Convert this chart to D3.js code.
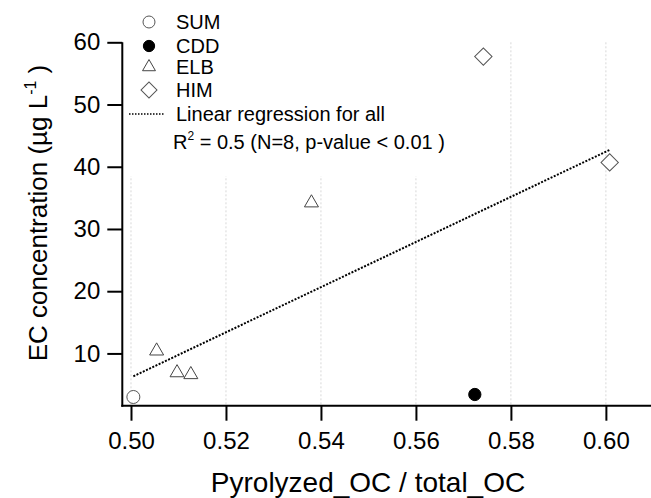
<!DOCTYPE html>
<html>
<head>
<meta charset="utf-8">
<script src="https://cdn.jsdelivr.net/npm/d3@7"></script>
<style>
  html, body { margin: 0; padding: 0; background: #fff; }
  svg { display: block; font-family: "Liberation Sans", Arial, sans-serif; }
</style>
</head>
<body>
<svg id="chart" width="651" height="498"></svg>
<script>
// values
const groups = ['SUM', 'CDD', 'ELB', 'HIM'];
const sumX = [0.5005], sumY = [3.0];
const cddX = [0.5724], cddY = [3.4];
const elbX = [0.5054, 0.5097, 0.5126, 0.5380], elbY = [10.4, 6.9, 6.6, 34.2];
const himX = [0.5742, 0.6008], himY = [57.7, 40.7];
const xTicks = [0.50, 0.52, 0.54, 0.56, 0.58, 0.60];
const yTicks = [10, 20, 30, 40, 50, 60];
const regLabel = 'Linear regression for all';

const W = 651, H = 498;
const svg = d3.select('#chart');

const x = d3.scaleLinear().domain([0.49817, 0.6095]).range([122.3, 651]);
const y = d3.scaleLinear().domain([1.6, 60]).range([405.7, 42.3]);

// symbol per group
const sym = {
  SUM: { type: d3.symbolCircle, size: 133, fill: '#fff', stroke: '#555', rot: 0 },
  CDD: { type: d3.symbolCircle, size: 118, fill: '#000', stroke: '#000', rot: 0 },
  ELB: { type: d3.symbolTriangle, size: 85, fill: '#fff', stroke: '#444', rot: 0 },
  HIM: { type: d3.symbolSquare, size: 150, fill: '#fff', stroke: '#555', rot: 45 }
};

const series = [
  { name: 'SUM', xs: sumX, ys: sumY },
  { name: 'CDD', xs: cddX, ys: cddY },
  { name: 'ELB', xs: elbX, ys: elbY },
  { name: 'HIM', xs: himX, ys: himY }
];

// vertical dotted grid
svg.append('g').selectAll('line')
  .data(xTicks)
  .join('line')
  .attr('x1', d => x(d)).attr('x2', d => x(d))
  .attr('y1', y(60)).attr('y2', y.range()[0])
  .attr('stroke', '#d8d8d8')
  .attr('stroke-width', 1)
  .attr('stroke-dasharray', '2,2');

// legend background hides grid behind it
svg.append('rect')
  .attr('x', 125).attr('y', 0)
  .attr('width', 330).attr('height', 176)
  .attr('fill', '#fff');

// regression over all points
const allPts = series.flatMap(s => s.xs.map((v, i) => [v, s.ys[i]]));
const mx = d3.mean(allPts, p => p[0]), my = d3.mean(allPts, p => p[1]);
const slope = d3.sum(allPts, p => (p[0] - mx) * (p[1] - my)) / d3.sum(allPts, p => (p[0] - mx) ** 2);
const icpt = my - slope * mx;
const [x0, x1] = d3.extent(allPts, p => p[0]);

svg.append('line')
  .attr('x1', x(x0)).attr('y1', y(icpt + slope * x0))
  .attr('x2', x(x1)).attr('y2', y(icpt + slope * x1))
  .attr('stroke', '#000')
  .attr('stroke-width', 2)
  .attr('stroke-dasharray', '2,1.5');

// points
series.forEach(s => {
  const st = sym[s.name];
  svg.append('g').selectAll('path')
    .data(s.xs.map((v, i) => [v, s.ys[i]]))
    .join('path')
    .attr('d', d3.symbol().type(st.type).size(st.size))
    .attr('transform', d => `translate(${x(d[0])},${y(d[1])}) rotate(${st.rot})`)
    .attr('fill', st.fill)
    .attr('stroke', st.stroke)
    .attr('stroke-width', 1);
});

// axes
const xAxis = svg.append('g')
  .attr('transform', `translate(0,${y.range()[0]})`)
  .call(d3.axisBottom(x).tickValues(xTicks).tickFormat(d3.format('.2f')).tickSize(15).tickPadding(11).tickSizeOuter(0));
const yAxis = svg.append('g')
  .attr('transform', `translate(${x.range()[0]},0)`)
  .call(d3.axisLeft(y).tickValues(yTicks).tickSize(15).tickPadding(7).tickSizeOuter(0));

[xAxis, yAxis].forEach(a => {
  a.select('.domain').attr('stroke', '#000').attr('stroke-width', 2);
  a.selectAll('.tick line').attr('stroke', '#000').attr('stroke-width', 2);
  a.selectAll('.tick text')
    .attr('fill', '#000')
    .style('font-family', '"Liberation Sans", Arial, sans-serif')
    .style('font-size', '24px');
});
xAxis.select('.domain').attr('d', `M${x.range()[0] - 1},0H${W}`);
yAxis.select('.domain').attr('d', `M0,${y(60)}V${y.range()[0] + 1}`);

// axis titles
svg.append('text')
  .attr('x', 368).attr('y', 492)
  .attr('text-anchor', 'middle')
  .style('font-size', '28px')
  .text('Pyrolyzed_OC / total_OC');

const yt = svg.append('text')
  .attr('transform', 'translate(47,213) rotate(-90)')
  .attr('text-anchor', 'middle')
  .style('font-size', '26px');
yt.append('tspan').text('EC concentration (µg L');
yt.append('tspan').attr('dy', -11).style('font-size', '16px').text('-1');
yt.append('tspan').attr('dy', 11).text(' )');

// legend
const lgX = 149, txX = 176;
const rows = [22, 46, 67, 90];
const lg = svg.append('g');
groups.forEach((g, i) => {
  const st = sym[g];
  lg.append('path')
    .attr('d', d3.symbol().type(st.type).size(st.size * 0.85))
    .attr('transform', `translate(${lgX},${rows[i]}) rotate(${st.rot})`)
    .attr('fill', st.fill)
    .attr('stroke', st.stroke)
    .attr('stroke-width', 1);
  lg.append('text')
    .attr('x', txX).attr('y', rows[i] + 7)
    .style('font-size', '20px')
    .text(g);
});
lg.append('line')
  .attr('x1', 129).attr('x2', 165)
  .attr('y1', 114).attr('y2', 114)
  .attr('stroke', '#000')
  .attr('stroke-width', 1.5)
  .attr('stroke-dasharray', '1.5,1.5');
lg.append('text')
  .attr('x', txX).attr('y', 121)
  .style('font-size', '20px')
  .text(regLabel);
const r2 = lg.append('text')
  .attr('x', 173).attr('y', 149)
  .style('font-size', '20px');
r2.append('tspan').text('R');
r2.append('tspan').attr('dy', -9).style('font-size', '12px').text('2');
r2.append('tspan').attr('dy', 9).text(' = 0.5 (N=8, p-value < 0.01 )');
</script>
</body>
</html>
